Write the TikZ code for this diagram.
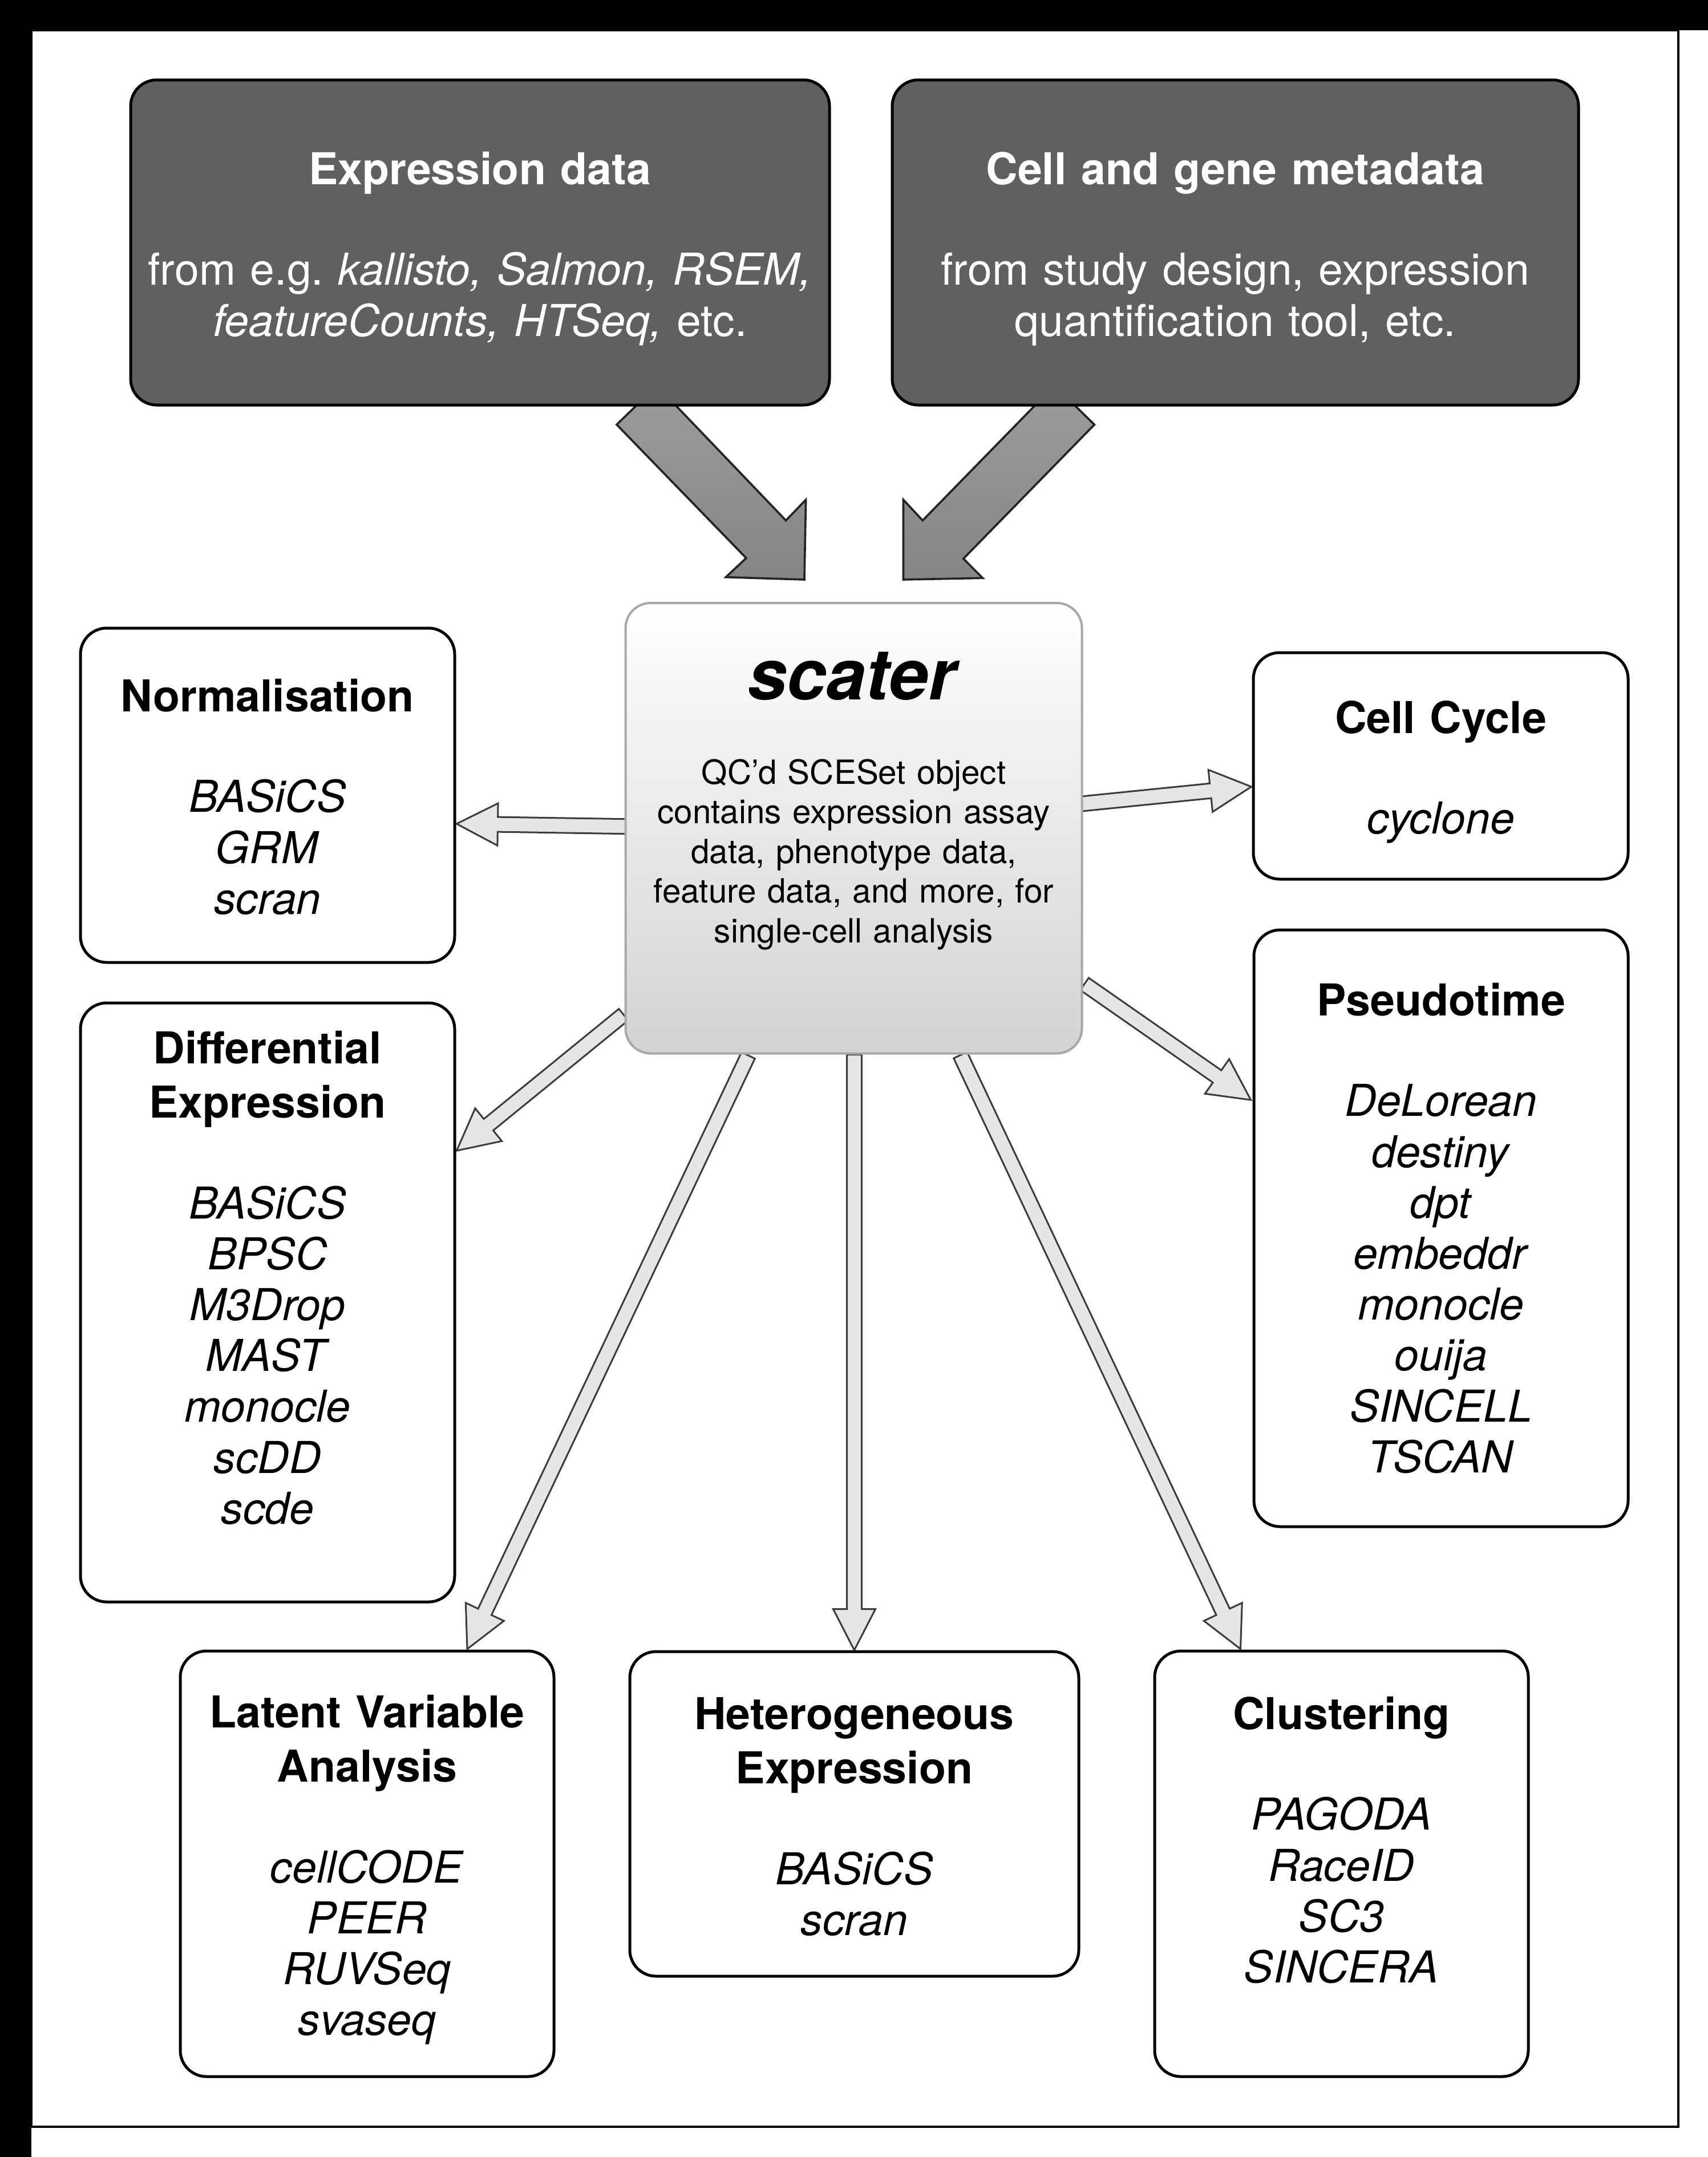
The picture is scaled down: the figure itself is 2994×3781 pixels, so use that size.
\documentclass[tikz,border=0pt]{standalone}
\usepackage{fontspec}
\setmainfont{TeX Gyre Heros}
\usetikzlibrary{calc}
\pgfdeclarelayer{back}
\pgfdeclarelayer{arrows}
\pgfsetlayers{back,arrows,main}
\definecolor{topfill}{HTML}{606060}
\definecolor{arrline}{HTML}{222222}
\definecolor{arrA}{HTML}{9C9C9C}
\definecolor{arrB}{HTML}{858585}
\definecolor{thinfill}{HTML}{E6E6E6}
\definecolor{thinline}{HTML}{3C3C3C}
\definecolor{scline}{HTML}{A8A8A8}
\definecolor{scbot}{HTML}{D3D3D3}
\newcommand\fsmain{\fontsize{19.25pt}{22.3pt}\selectfont}
\newcommand\fsbody{\fontsize{14.6pt}{17.4pt}\selectfont}
\newcommand\fsbig{\fontsize{31pt}{36pt}\selectfont}
\newcommand\thinarr[2]{%
  \coordinate (tmpH) at ($(#2)!18pt!(#1)$);
  \path[thinarrow] ($(#1)!3.25pt!90:(#2)$) -- ($(tmpH)!3.25pt!90:(#2)$) -- ($(tmpH)!9.25pt!90:(#2)$) -- (#2) -- ($(tmpH)!9.25pt!-90:(#2)$) -- ($(tmpH)!3.25pt!-90:(#2)$) -- ($(#1)!3.25pt!-90:(#2)$) -- cycle;}
\begin{document}
\begin{tikzpicture}[x=0.25pt,y=-0.25pt,
  box/.style={draw=black, line width=1.25pt, rounded corners=11.5pt, fill=white, inner sep=0pt},
  topbox/.style={box, fill=topfill},
  scbox/.style={draw=scline, line width=1pt, rounded corners=11pt, top color=white, bottom color=scbot, inner sep=0pt},
  txt/.style={inner sep=0pt, anchor=base, align=center, font=\fsmain, text width=155pt},
  toptxt/.style={txt, text=white, text width=300pt},
  bigarrow/.style={draw=arrline, line width=0.9pt, line join=miter, top color=arrA, bottom color=arrB},
  thinarrow/.style={draw=thinline, line width=0.75pt, fill=thinfill, line join=miter}]
\useasboundingbox (0,0) rectangle (2994,3781);
\begin{pgfonlayer}{back}
  \fill[white] (0,0) rectangle (2994,3781);
  \draw[line width=1.1pt] (55,53) rectangle (2942,3728);
  \fill[black] (0,0) rectangle (2994,53);
  \fill[black] (0,0) rectangle (55,3781);
\end{pgfonlayer}
% boxes
\node[topbox, minimum width={1225*0.25pt}, minimum height={570*0.25pt}] (expr) at (841.5,425) {};
\node[topbox, minimum width={1203*0.25pt}, minimum height={570*0.25pt}] (meta) at (2165.5,425) {};
\node[scbox, minimum width={800*0.25pt}, minimum height={789.5*0.25pt}] (scater) at (1496.5,1451.75) {};
\node[box, minimum width={656*0.25pt}, minimum height={586*0.25pt}] (norm) at (469,1394) {};
\node[box, minimum width={657*0.25pt}, minimum height={397*0.25pt}] (ccyc) at (2525.5,1342.5) {};
\node[box, minimum width={656*0.25pt}, minimum height={1050*0.25pt}] (diff) at (469,2283) {};
\node[box, minimum width={656*0.25pt}, minimum height={1046*0.25pt}] (pseudo) at (2526,2153) {};
\node[box, minimum width={655*0.25pt}, minimum height={746*0.25pt}] (latent) at (643.5,3267) {};
\node[box, minimum width={787*0.25pt}, minimum height={569*0.25pt}] (het) at (1497.5,3179.5) {};
\node[box, minimum width={655*0.25pt}, minimum height={746*0.25pt}] (clus) at (2351.5,3267) {};
% texts
\node[toptxt] (exprT) at (841.5,323) {\textbf{Expression data}\\[21.9pt]
  from e.g.\ \textit{kallisto, Salmon, RSEM,}\\ \textit{featureCounts, HTSeq,} etc.};
\node[toptxt] (metaT) at (2165.5,323) {\textbf{Cell and gene metadata}\\[21.9pt]
  from study design, expression\\ quantification tool, etc.};
\node[txt, font=\fsbig] (scT) at (1496.5,1226) {\textbf{\textit{scater}}};
\node[txt, font=\fsbody, text width=190pt] (scB) at (1496.5,1374) {QC’d SCESet object\\ contains expression assay\\ data, phenotype data,\\ feature data, and more, for\\ single-cell analysis};
\node[txt] (normT) at (469,1247) {\textbf{Normalisation}\\[21.9pt] \textit{BASiCS}\\ \textit{GRM}\\ \textit{scran}};
\node[txt] (ccycT) at (2525.5,1285) {\textbf{Cell Cycle}\\[21.9pt] \textit{cyclone}};
\node[txt] (diffT) at (469,1864) {\textbf{Differential}\\[1.5pt] \textbf{Expression}\\[21.9pt] \textit{BASiCS}\\ \textit{BPSC}\\ \textit{M3Drop}\\ \textit{MAST}\\ \textit{monocle}\\ \textit{scDD}\\ \textit{scde}};
\node[txt] (pseudoT) at (2526,1780) {\textbf{Pseudotime}\\[21.9pt] \textit{DeLorean}\\ \textit{destiny}\\ \textit{dpt}\\ \textit{embeddr}\\ \textit{monocle}\\ \textit{ouija}\\ \textit{SINCELL}\\ \textit{TSCAN}};
\node[txt] (latentT) at (643.5,3028) {\textbf{Latent Variable}\\[1.5pt] \textbf{Analysis}\\[21.9pt] \textit{cellCODE}\\ \textit{PEER}\\ \textit{RUVSeq}\\ \textit{svaseq}};
\node[txt, text width=190pt] (hetT) at (1497.5,3031) {\textbf{Heterogeneous}\\[1.5pt] \textbf{Expression}\\[21.9pt] \textit{BASiCS}\\ \textit{scran}};
\node[txt] (clusT) at (2351.5,3031) {\textbf{Clustering}\\[21.9pt] \textit{PAGODA}\\ \textit{RaceID}\\ \textit{SC3}\\ \textit{SINCERA}};
% connectors
\begin{pgfonlayer}{arrows}
  \path[bigarrow] (1081,744.3) -- (1308,978.3) -- (1272.3,1011.7) -- (1410,1016) -- (1412.6,876) -- (1377.6,912.3) -- (1151.4,676.1) -- cycle;
  \path[bigarrow] (1918.4,744.3) -- (1688.8,979.3) -- (1722.6,1013.3) -- (1583.5,1016) -- (1583.5,876) -- (1617.3,912.3) -- (1848.3,675.8) -- cycle;
  \coordinate (s1) at ($(scater.west)+(10,-3)$);
  \coordinate (e1) at ($(norm.east)+(1,50)$);
  \coordinate (s2) at ($(scater.east)+(-10,-42)$);
  \coordinate (e2) at ($(ccyc.west)+(-1,36.5)$);
  \coordinate (s3) at ($(scater.south west)+(-1.5,-70)$);
  \coordinate (e3) at ($(diff.east)+(1,-266)$);
  \coordinate (s4) at ($(scater.south)+(-185,1.5)$);
  \coordinate (e4) at ($(latent.north)+(175.5,-1)$);
  \coordinate (s5) at ($(scater.south)+(1,0)$);
  \coordinate (e5) at (het.north);
  \coordinate (s6) at ($(scater.south)+(187,1)$);
  \coordinate (e6) at ($(clus.north)+(-177,-1)$);
  \coordinate (s7) at ($(scater.east)+(2.5,273)$);
  \coordinate (e7) at ($(pseudo.west)+(-3,-225)$);
  \thinarr{s1}{e1}
  \thinarr{s2}{e2}
  \thinarr{s3}{e3}
  \thinarr{s4}{e4}
  \thinarr{s5}{e5}
  \thinarr{s6}{e6}
  \thinarr{s7}{e7}
\end{pgfonlayer}
\end{tikzpicture}
\end{document}
